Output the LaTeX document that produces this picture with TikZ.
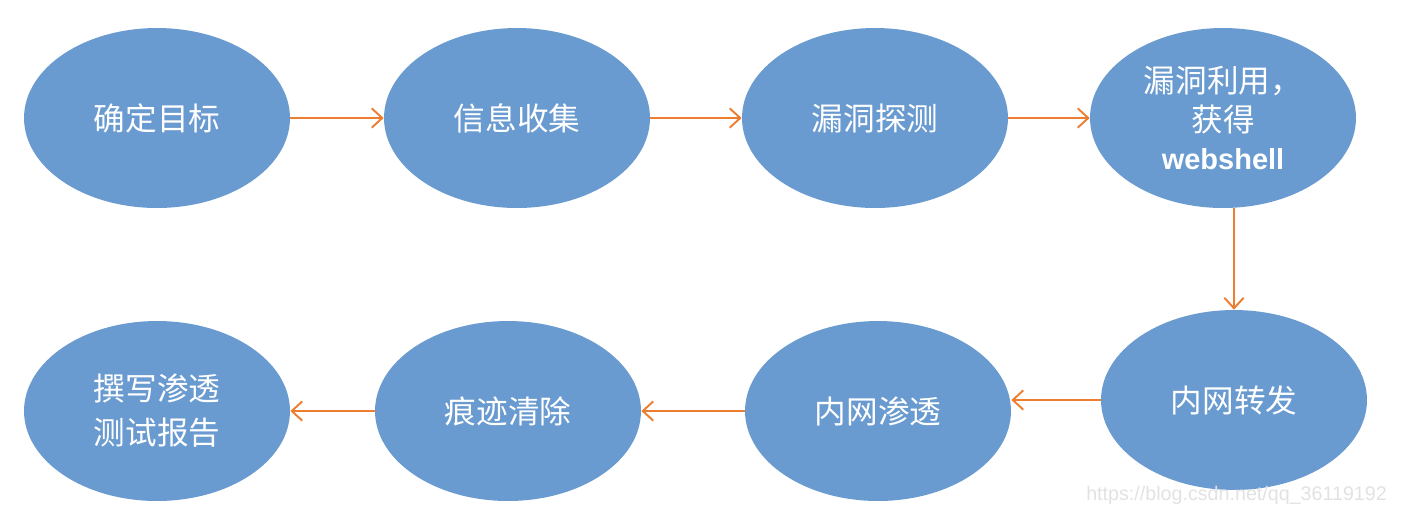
\documentclass[tikz,border=0pt]{standalone}
\usepackage{fontspec}
\newfontfamily\cjk{Noto Sans CJK SC}
\newfontfamily\latinsans{Liberation Sans}
\usepackage{tikz}
\usetikzlibrary{arrows.meta, positioning, shapes.geometric}

\definecolor{stepblue}{HTML}{6A9BD0}
\definecolor{flowline}{HTML}{ED7D31}
\definecolor{markgrey}{HTML}{E2E2E2}

\begin{document}
\begin{tikzpicture}[x=0.02cm, y=-0.02cm, >={Straight Barb[length=6pt, width=11pt]},
  stage/.style={ellipse, fill=stepblue, minimum width=5.32cm, minimum height=3.6cm,
    inner sep=0pt, text=white, align=center, font=\cjk\fontsize{18}{22}\selectfont},
  flow/.style={->, draw=flowline, line width=1.1pt}]
  \useasboundingbox (0,0) rectangle (1406,512);
  % top row, left to right
  \node[stage] (goal)    at (157,118)  {确定目标};
  \node[stage] (recon)   at (517,118)  {信息收集};
  \node[stage] (scan)    at (875,118)  {漏洞探测};
  \node[stage] (exploit) at (1223,118)
    {漏洞利用，\\[0pt]获得\\[0pt]{\latinsans\bfseries\fontsize{16.5}{20}\selectfont webshell}};
  % bottom row, right to left
  \node[stage] (pivot)   at (1234,400) {内网转发};
  \node[stage] (lateral) at (878,411)  {内网渗透};
  \node[stage] (cleanup) at (508,411)  {痕迹清除};
  \node[stage] (report)  at (157,411)  {撰写渗透\\[3pt]测试报告};
  % connectors
  \draw[flow] (goal) -- (recon);
  \draw[flow] (recon) -- (scan);
  \draw[flow] (scan) -- (exploit);
  \draw[flow] (exploit.south -| pivot.north) -- (pivot.north);
  \draw[flow] (pivot.west) -- (pivot.west -| lateral.east);
  \draw[flow] (lateral) -- (cleanup);
  \draw[flow] (cleanup) -- (report);
  % watermark
  \node[text=markgrey, font=\latinsans\fontsize{11.2}{13}\selectfont, anchor=east]
    (mark) at (1393,495) {https://blog.csdn.net/qq\_36119192};
\end{tikzpicture}
\end{document}
